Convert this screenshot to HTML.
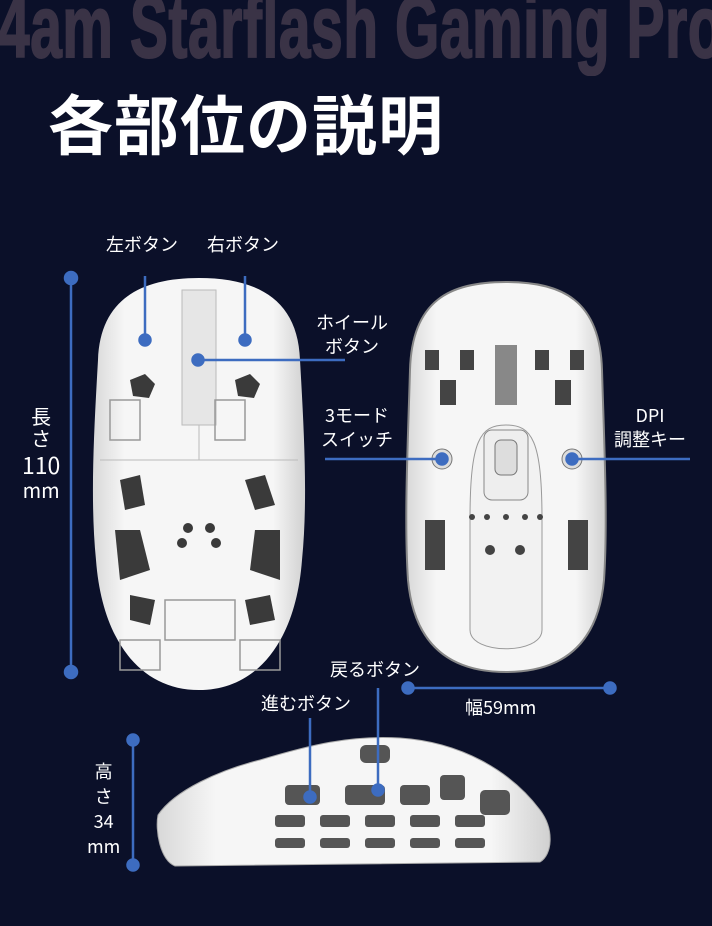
<!DOCTYPE html>
<html><head><meta charset="utf-8"><style>
body{margin:0;width:712px;height:926px;background:#0b1029;overflow:hidden;position:relative;font-family:"Liberation Sans","Noto Sans CJK JP",sans-serif;color:#fff}
.hd{position:absolute;left:-2px;top:-24px;font-size:88px;font-weight:bold;color:#3a3346;white-space:nowrap;transform:scaleX(0.645);transform-origin:0 0;letter-spacing:1px;-webkit-text-stroke:2px #3a3346}
.tt{position:absolute;left:48px;top:74px;font-size:65px;font-weight:bold;letter-spacing:1px;font-family:"Noto Sans CJK JP",sans-serif}
.l{position:absolute;font-size:18px;line-height:24px;text-align:center;white-space:nowrap;font-family:"Noto Sans CJK JP",sans-serif}
svg{position:absolute;left:0;top:0}
</style></head><body>
<div class="hd">4am Starflash Gaming Pro</div>
<div class="tt">各部位の説明</div>
<svg width="712" height="926">
<defs><linearGradient id="g" x1="0" x2="1"><stop offset="0" stop-color="#d8d8d8"/><stop offset=".15" stop-color="#f6f6f6"/><stop offset=".85" stop-color="#f6f6f6"/><stop offset="1" stop-color="#d0d0d0"/></linearGradient></defs>
<path d="M199 278 C140 278 100 300 98 360 C94 430 90 500 96 560 C102 640 140 690 199 690 C258 690 296 640 302 560 C308 500 304 430 300 360 C298 300 258 278 199 278Z" fill="url(#g)"/>
<rect x="182" y="290" width="34" height="135" fill="#e6e6e6" stroke="#bbb"/>
<line x1="100" y1="460" x2="298" y2="460" stroke="#bbb"/>
<line x1="199" y1="425" x2="199" y2="460" stroke="#bbb"/>
<g fill="#3a3a3a">
<path d="M130 380 l15 -6 l10 10 l-6 14 l-16 -2z"/><path d="M235 380 l15 -6 l10 10 l-6 14 l-16 -2z"/>
<path d="M120 480 l20 -5 l5 30 l-20 5z"/><path d="M245 480 l20 -5 l10 30 l-20 5z"/>
<path d="M115 530 l25 0 l10 40 l-30 10z"/><path d="M255 530 l25 0 l0 50 l-30 -10z"/>
<circle cx="188" cy="528" r="5"/><circle cx="210" cy="528" r="5"/><circle cx="182" cy="543" r="5"/><circle cx="216" cy="543" r="5"/>
<path d="M130 595 l25 5 l-5 25 l-20 -5z"/><path d="M245 600 l25 -5 l5 25 l-25 5z"/>
</g>
<g fill="none" stroke="#999" stroke-width="1.5">
<path d="M110 400 h30 v40 h-30z"/><path d="M215 400 h30 v40 h-30z"/><path d="M165 600 h70 v40 h-70z"/><path d="M120 640 h40 v30 h-40z"/><path d="M240 640 h40 v30 h-40z"/>
</g>
<path d="M506 282 C450 282 412 300 410 370 C408 440 404 520 408 580 C414 645 450 672 506 672 C562 672 598 645 604 580 C608 520 604 440 602 370 C600 300 562 282 506 282Z" fill="url(#g)" stroke="#888" stroke-width="2"/>
<path d="M470 520 C470 440 480 425 506 425 C532 425 542 440 542 520 L542 630 C542 655 470 655 470 630Z" fill="#f2f2f2" stroke="#999"/>
<rect x="484" y="430" width="44" height="70" rx="8" fill="#eee" stroke="#888"/>
<rect x="495" y="440" width="22" height="35" rx="6" fill="#ddd" stroke="#777"/>
<g fill="#444">
<path d="M425 350 h14 v20 h-14z"/><path d="M460 350 h14 v20 h-14z"/><path d="M495 345 h22 v60 h-22z" fill="#888"/><path d="M535 350 h14 v20 h-14z"/><path d="M570 350 h14 v20 h-14z"/>
<path d="M440 380 h16 v25 h-16z"/><path d="M555 380 h16 v25 h-16z"/>
<path d="M425 520 h20 v50 h-20z"/><path d="M568 520 h20 v50 h-20z"/>
<circle cx="472" cy="517" r="3"/><circle cx="487" cy="517" r="3"/><circle cx="506" cy="517" r="3"/><circle cx="525" cy="517" r="3"/><circle cx="540" cy="517" r="3"/>
<circle cx="490" cy="550" r="5"/><circle cx="520" cy="550" r="5"/>
</g>
<circle cx="442" cy="459" r="10" fill="#ddd" stroke="#777"/><circle cx="572" cy="459" r="10" fill="#ddd" stroke="#777"/>
<path d="M158 815 C175 790 220 770 260 760 C310 745 350 735 400 738 C460 742 510 770 540 810 C555 830 552 855 540 862 L175 866 C160 860 155 830 158 815Z" fill="url(#g)" stroke="#aaa"/>
<g fill="#555">
<rect x="285" y="785" width="35" height="20" rx="4"/><rect x="345" y="785" width="40" height="20" rx="4"/><rect x="400" y="785" width="30" height="20" rx="4"/><rect x="440" y="775" width="25" height="25" rx="4"/>
<rect x="275" y="815" width="30" height="12" rx="3"/><rect x="320" y="815" width="30" height="12" rx="3"/><rect x="365" y="815" width="30" height="12" rx="3"/><rect x="410" y="815" width="30" height="12" rx="3"/><rect x="455" y="815" width="30" height="12" rx="3"/>
<rect x="275" y="838" width="30" height="10" rx="3"/><rect x="320" y="838" width="30" height="10" rx="3"/><rect x="365" y="838" width="30" height="10" rx="3"/><rect x="410" y="838" width="30" height="10" rx="3"/><rect x="455" y="838" width="30" height="10" rx="3"/>
<rect x="360" y="745" width="30" height="18" rx="6"/><rect x="480" y="790" width="30" height="25" rx="5"/>
</g>
<g stroke="#3d6cc0" stroke-width="2.5" fill="#3d6cc0">
<line x1="71" y1="278" x2="71" y2="672"/><circle cx="71" cy="278" r="6"/><circle cx="71" cy="672" r="6"/>
<line x1="145" y1="276" x2="145" y2="340"/><circle cx="145" cy="340" r="5.5"/>
<line x1="245" y1="276" x2="245" y2="340"/><circle cx="245" cy="340" r="5.5"/>
<line x1="198" y1="360" x2="345" y2="360"/><circle cx="198" cy="360" r="5.5"/>
<line x1="325" y1="459" x2="442" y2="459"/><circle cx="442" cy="459" r="5.5"/>
<line x1="572" y1="459" x2="690" y2="459"/><circle cx="572" cy="459" r="5.5"/>
<line x1="378" y1="688" x2="378" y2="790"/><circle cx="378" cy="790" r="5.5"/>
<line x1="310" y1="718" x2="310" y2="797"/><circle cx="310" cy="797" r="5.5"/>
<line x1="408" y1="688" x2="610" y2="688"/><circle cx="408" cy="688" r="5.5"/><circle cx="610" cy="688" r="5.5"/>
<line x1="133" y1="740" x2="133" y2="865"/><circle cx="133" cy="740" r="5.5"/><circle cx="133" cy="865" r="5.5"/>
</g>
</svg>
<div class="l" style="left:106px;top:232px">左ボタン</div>
<div class="l" style="left:207px;top:232px">右ボタン</div>
<div class="l" style="left:316px;top:310px">ホイール<br>ボタン</div>
<div class="l" style="left:321px;top:403px">3モード<br>スイッチ</div>
<div class="l" style="left:614px;top:403px">DPI<br>調整キー</div>
<div class="l" style="left:22px;top:405px;font-size:20px;line-height:22px">長<br>さ<br><span style="font-size:23px;line-height:30px">110</span><br>mm</div>
<div class="l" style="left:330px;top:657px">戻るボタン</div>
<div class="l" style="left:261px;top:691px">進むボタン</div>
<div class="l" style="left:465px;top:695px">幅59mm</div>
<div class="l" style="left:87px;top:759px;line-height:25px">高<br>さ<br>34<br>mm</div>
</body></html>
